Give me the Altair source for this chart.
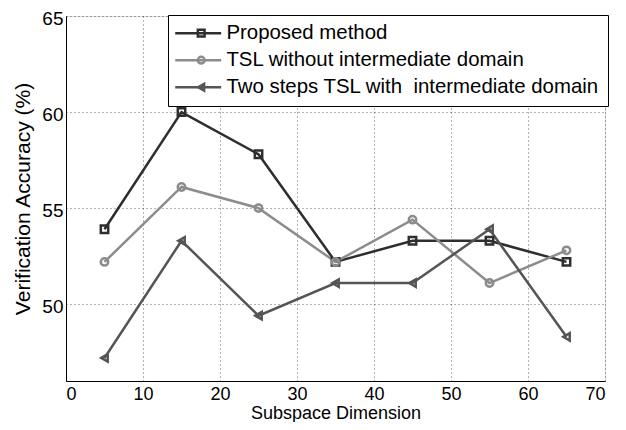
import altair as alt
import pandas as pd

dims = [5, 15, 25, 35, 45, 55, 65]
proposed = [53.9, 60.0, 57.8, 52.2, 53.3, 53.3, 52.2]
tsl = [52.2, 56.1, 55.0, 52.2, 54.4, 51.1, 52.8]
two_steps = [47.2, 53.3, 49.4, 51.1, 51.1, 53.9, 48.3]

names = ["Proposed method", "TSL without intermediate domain",
         "Two steps TSL with\u00a0 intermediate domain"]
colors = ["#2e2e2e", "#8c8c8c", "#555555"]
shapes = ["square", "circle", "triangle-left"]

rows = []
for name, vals in zip(names, [proposed, tsl, two_steps]):
    for d, v in zip(dims, vals):
        rows.append({"dim": d, "acc": v, "method": name, "method2": name})
df = pd.DataFrame(rows)

font = "Liberation Sans"
LX, LY = 102, -1

x = alt.X("dim:Q", title="Subspace Dimension",
          scale=alt.Scale(domain=[0, 70], nice=False),
          axis=alt.Axis(values=list(range(0, 71, 10)), grid=True, gridDash=[1, 3],
                        gridColor="#000000", gridOpacity=0.6, ticks=False,
                        domainColor="#000", labelPadding=4, titlePadding=1,
                        labelFontSize=18, titleFontSize=18, labelFont=font, titleFont=font,
                        titleFontWeight="normal", labelColor="#000", titleColor="#000"))
y = alt.Y("acc:Q", title="Verification Accuracy (%)",
          scale=alt.Scale(domain=[46, 65], nice=False, zero=False),
          axis=alt.Axis(values=[50, 55, 60, 65], grid=True, gridDash=[1, 3],
                        gridColor="#000000", gridOpacity=0.6, ticks=False,
                        domainColor="#000", labelPadding=3, titlePadding=8, labelOffset=2,
                        labelFontSize=19, titleFontSize=21, labelFont=font, titleFont=font,
                        titleFontWeight="normal", labelColor="#000", titleColor="#000"))

line_color = alt.Color("method:N", sort=names,
                       scale=alt.Scale(domain=names, range=colors),
                       legend=alt.Legend(title=None, orient="none", legendX=LX, legendY=LY,
                                         strokeColor="#000", fillColor="#fff", padding=8,
                                         labelFontSize=20.4, labelFont=font, labelColor="#000",
                                         symbolType="M-4,0H4", symbolSize=132,
                                         symbolStrokeWidth=2.5, symbolOffset=12,
                                         rowPadding=6, labelLimit=500, labelOffset=18))
pt_legend = alt.Legend(title=None, orient="none", legendX=LX, legendY=LY,
                       padding=8, labelFontSize=20.4, labelFont=font, labelExpr="' '",
                       labelOpacity=0, symbolSize=45, symbolStrokeWidth=2.5,
                       symbolOffset=15, rowPadding=6, labelLimit=500, labelOffset=18)
pt_color = alt.Color("method2:N", sort=names,
                     scale=alt.Scale(domain=names, range=colors), legend=pt_legend)
shape = alt.Shape("method2:N", sort=names, scale=alt.Scale(domain=names, range=shapes),
                  legend=pt_legend)

lines = alt.Chart(df).mark_line(strokeWidth=2.5).encode(x=x, y=y, color=line_color)
pts = alt.Chart(df).mark_point(size=55, strokeWidth=2.5, filled=False, opacity=1).encode(
    x=x, y=y, color=pt_color, shape=shape)

chart = alt.layer(lines, pts).resolve_scale(color="independent").resolve_legend(
    color="independent", shape="independent"
).properties(
    width=539, height=365,
    autosize=alt.AutoSizeParams(type="none"),
    padding={"left": 58, "top": 8, "right": 10, "bottom": 41},
).configure_view(stroke="#000", strokeWidth=1.5).configure(background="#ffffff")

chart.save("out.html", embed_options={"renderer": "svg", "actions": False})
